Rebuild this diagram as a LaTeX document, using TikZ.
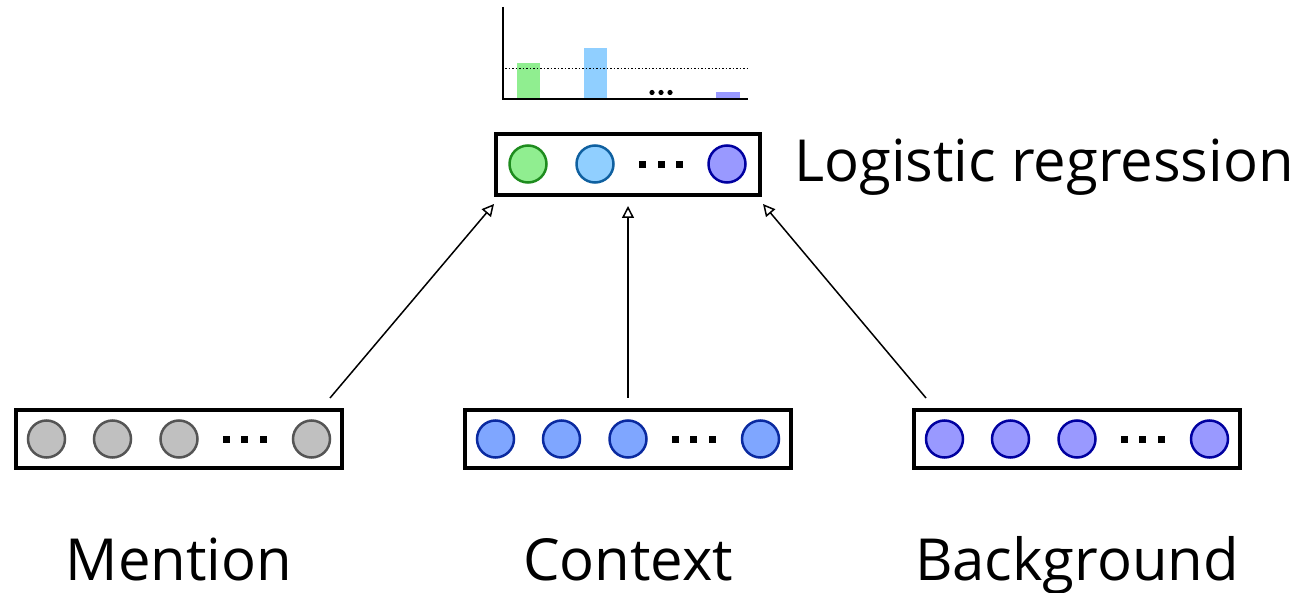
\documentclass[tikz,border=0pt]{standalone}
\usepackage{fontspec}
\setmainfont{Open Sans}
\usetikzlibrary{arrows.meta}
\definecolor{greyfill}{HTML}{C0C0C0}
\definecolor{greydraw}{HTML}{555555}
\definecolor{ctxfill}{HTML}{7FA6FF}
\definecolor{ctxdraw}{HTML}{0A2AA0}
\definecolor{bgfill}{HTML}{9999FF}
\definecolor{bgdraw}{HTML}{0000A0}
\definecolor{grnfill}{HTML}{90EE90}
\definecolor{grndraw}{HTML}{1E8C1E}
\definecolor{lbfill}{HTML}{90CFFF}
\definecolor{lbdraw}{HTML}{0F60A0}
\tikzset{
  vecbox/.style={draw=black, line width=4pt, minimum width=326pt, minimum height=58pt, inner sep=0pt},
  unit/.style={circle, line width=2.5pt, minimum size=37pt, inner sep=0pt},
  sq/.style={fill=black, minimum size=7pt, inner sep=0pt},
  lbl/.style={font=\fontsize{58pt}{61pt}\selectfont, inner sep=0pt},
  conn/.style={line width=1.5pt, -{Triangle[open, length=12pt, width=12pt, line width=1.5pt]}},
  bar/.style={inner sep=0pt}
}
\begin{document}
\begin{tikzpicture}[x=1pt, y=1pt, yscale=-1]
\useasboundingbox (0,0) rectangle (1309,593);
% histogram
\fill[grnfill] (517,63) rectangle (540,99);
\fill[lbfill] (584,48) rectangle (607,99);
\fill[bgfill] (716,92) rectangle (740,99);
\draw[line width=1.5pt, dotted] (505,68.5) -- (747,68.5);
\draw[line width=2pt] (502.5,7) -- (502.5,99.5) -- (748,99.5);
\foreach \x in {652,661,670} \fill (\x,92.5) circle (2.6pt);
% top box
\node[vecbox, minimum width=264pt, minimum height=61pt] (top) at (628,164.5) {};
\node[unit, draw=grndraw, fill=grnfill] (t1) at (528,164) {};
\node[unit, draw=lbdraw, fill=lbfill] (t2) at (595,164) {};
\node[sq] (td1) at (642.5,164.5) {};
\node[sq] (td2) at (661,164.5) {};
\node[sq] (td3) at (679.5,164.5) {};
\node[unit, draw=bgdraw, fill=bgfill] (t3) at (727,164) {};
\node[lbl, anchor=base west] (lr) at (794,182) {Logistic regression};
% bottom boxes
\foreach \name/\cx/\fc/\dc in {m/179/greyfill/greydraw, c/628/ctxfill/ctxdraw, b/1077/bgfill/bgdraw} {
  \node[vecbox] (\name box) at (\cx,439) {};
  \node[unit, draw=\dc, fill=\fc] (\name1) at (\cx-132.5,439) {};
  \node[unit, draw=\dc, fill=\fc] (\name2) at (\cx-66.5,439) {};
  \node[unit, draw=\dc, fill=\fc] (\name3) at (\cx,439) {};
  \node[sq] (\name d1) at (\cx+47,439) {};
  \node[sq] (\name d2) at (\cx+65.5,439) {};
  \node[sq] (\name d3) at (\cx+84,439) {};
  \node[unit, draw=\dc, fill=\fc] (\name4) at (\cx+132.5,439) {};
}
\node[lbl, anchor=base] (ml) at (179,580) {Mention};
\node[lbl, anchor=base] (cl) at (628,580) {Context};
\node[lbl, anchor=base] (bl) at (1077,580) {Background};
% connectors
\coordinate (ms) at (330,398);
\coordinate (cs) at (628,398);
\coordinate (bs) at (926,398);
\coordinate (me) at (494,204);
\coordinate (ce) at (628,206);
\coordinate (be) at (763,204);
\draw[conn] (ms) -- (me);
\draw[conn] (cs) -- (ce);
\draw[conn] (bs) -- (be);
\end{tikzpicture}
\end{document}
